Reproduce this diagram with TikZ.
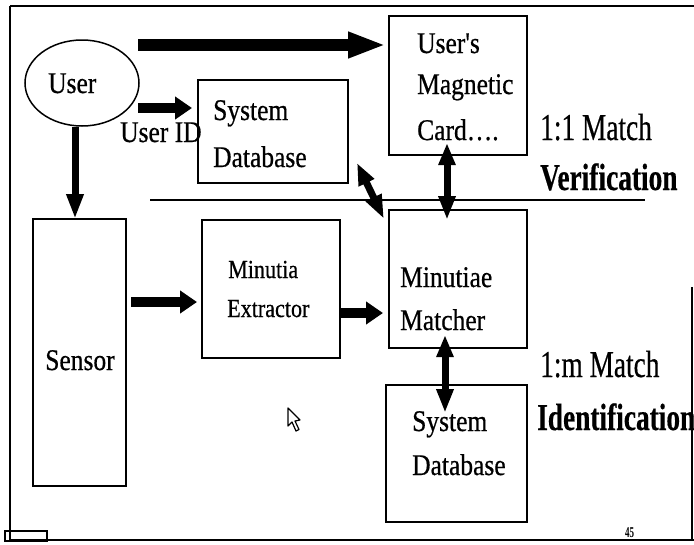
\documentclass[tikz,border=0pt]{standalone}
\usepackage{fontspec}
\setmainfont{Liberation Serif}
\newfontfamily\boxfont[FakeStretch=0.85,FakeBold=0.6]{Liberation Serif}
\newfontfamily\lblfont[FakeStretch=0.72,FakeBold=0.4]{Liberation Serif}
\newfontfamily\numfont[FakeStretch=0.6]{Liberation Serif}
\usetikzlibrary{arrows.meta,shapes.geometric}
\tikzset{
  box/.style={draw, line width=1.5pt, inner sep=0pt, outer sep=0pt, anchor=north west},
  txt/.style={anchor=base west, inner sep=0pt, font=\boxfont\fontsize{30}{36}\selectfont},
  stxt/.style={anchor=base west, inner sep=0pt, font=\boxfont\fontsize{26}{32}\selectfont},
  lbl/.style={anchor=base west, inner sep=0pt, font=\lblfont\fontsize{38}{44}\selectfont},
  frame/.style={line width=2pt},
  fatarrow/.style={line width=12pt, -{Triangle[length=38pt,width=24pt]}},
  midarrow/.style={line width=10pt, -{Triangle[length=17pt,width=22pt]}},
  downarrow/.style={line width=7pt, -{Triangle[length=25pt,width=16pt]}},
  dblarrow/.style={line width=7pt, {Triangle[length=22pt,width=16pt]}-{Triangle[length=24pt,width=16pt]}},
}
\begin{document}
\begin{tikzpicture}[x=1pt,y=-1pt]
\useasboundingbox (0,0) rectangle (694,544);
% frame
\draw[frame] (10,6) -- (694,6);
\draw[frame] (10,6) -- (10,540) -- (694,540);
\draw[frame] (692,287) -- (692,540);
\draw[line width=1.5pt] (5,531) rectangle (47,541);
% separator
\draw[line width=1.5pt] (150,200) -- (645,200);

% nodes
\node[ellipse, draw, line width=1.5pt, minimum width=114pt, minimum height=86pt, inner sep=0pt] (user) at (82,83) {};
\node[box, minimum width=150pt, minimum height=103pt] (sysdb1) at (198,80) {};
\node[box, minimum width=138pt, minimum height=139pt] (card) at (389,16) {};
\node[box, minimum width=93pt, minimum height=267pt] (sensor) at (33,219) {};
\node[box, minimum width=138pt, minimum height=138pt] (extr) at (202,220) {};
\node[box, minimum width=138pt, minimum height=138pt] (matcher) at (389,210) {};
\node[box, minimum width=141pt, minimum height=137pt] (sysdb2) at (386,385) {};

% texts
\node[txt] (usr) at (48,93) {User};
\node[txt] (uid) at (120,142) {User ID};
\node[txt] (sd1a) at (213,120) {System};
\node[txt] (sd1b) at (213,167) {Database};
\node[txt] (cda) at (417,53) {User's};
\node[txt] (cdb) at (417,94) {Magnetic};
\node[txt] (cdc) at (417,140) {Card\dots.};
\node[txt, anchor=base] (sen) at (80,370) {Sensor};
\node[stxt] (exa) at (228,278) {Minutia};
\node[stxt] (exb) at (227,317) {Extractor};
\node[txt] (mta) at (400,287) {Minutiae};
\node[txt] (mtb) at (400,330) {Matcher};
\node[txt] (sd2a) at (412,431) {System};
\node[txt] (sd2b) at (412,475) {Database};
\node[lbl] (m11) at (540,140) {1:1 Match};
\node[lbl, font=\lblfont\bfseries\fontsize{38}{44}\selectfont] (ver) at (540,190) {Verification};
\node[lbl] (m1m) at (540,377) {1:m Match};
\node[lbl, font=\lblfont\bfseries\fontsize{38}{44}\selectfont] (idf) at (537,430) {Identification};
\node[anchor=base west, inner sep=0pt, font=\numfont\bfseries\fontsize{15}{18}\selectfont] (pg) at (625,537) {45};

% connectors
\coordinate (topS) at (138,45);
\draw[fatarrow] (topS) -- ([xshift=-3pt]card.west |- topS);
\coordinate (uidS) at (138,108);
\draw[midarrow] (uidS) -- ([xshift=-6pt]sysdb1.west |- uidS);
\coordinate (dnS) at (75,127);
\draw[downarrow] (dnS) -- (dnS |- sensor.north);
\coordinate (seS) at (131,302);
\draw[midarrow] (seS) -- ([xshift=-5pt]extr.west |- seS);
\coordinate (emS) at (340,313);
\draw[midarrow] (emS) -- ([xshift=-6pt]matcher.west |- emS);
\coordinate (cmX) at (447,0);
\draw[dblarrow] ([yshift=12pt]cmX |- card.south) -- ([yshift=-10pt]cmX |- matcher.north);
\coordinate (dg1) at (357,163);
\coordinate (dg2) at (384,219);
\draw[dblarrow] (dg1) -- (dg2);
\coordinate (mdX) at (445,0);
\draw[dblarrow] ([yshift=13pt]mdX |- matcher.south) -- ([yshift=-28pt]mdX |- sysdb2.north);

% cursor
\draw[line width=1.2pt, fill=white, line join=round]
  (288,408) -- (288,426) -- (292,422) -- (296,431) -- (299,429.5) -- (295,421) -- (300,420) -- cycle;
\end{tikzpicture}
\end{document}
